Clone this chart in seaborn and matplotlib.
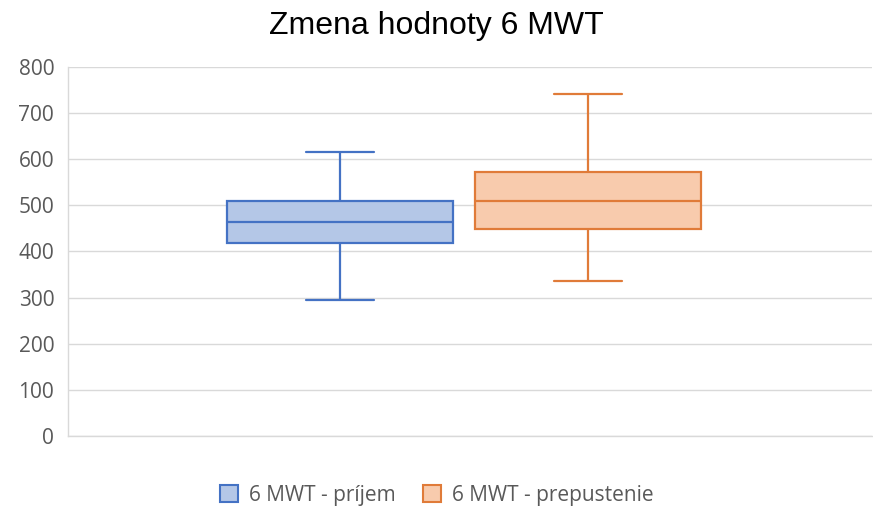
import matplotlib
matplotlib.use("Agg")
import matplotlib.pyplot as plt
import seaborn as sns
import pandas as pd
from matplotlib.patches import Patch

# five-number summaries (min, q1, median, q3, max)
series = ["6 MWT - príjem", "6 MWT - prepustenie"]
prijem = [295, 419, 464, 510, 616]
prepustenie = [336, 449, 510, 573, 742]
yticks = [0, 100, 200, 300, 400, 500, 600, 700, 800]

edge_colors = ["#4472C4", "#E07B39"]
fill_colors = ["#B4C7E7", "#F8CBAD"]

df = pd.DataFrame({
    "value": prijem + prepustenie,
    "series": [series[0]] * len(prijem) + [series[1]] * len(prepustenie),
    "cat": "6 MWT",
})

sns.set_style("white")
plt.rcParams["font.family"] = ["Open Sans", "DejaVu Sans"]

fig = plt.figure(figsize=(8.73, 5.19), dpi=100)
ax = fig.add_axes([0.078, 0.160, 0.921, 0.711])

sns.boxplot(data=df, x="cat", y="value", hue="series", hue_order=series,
            whis=(0, 100), width=0.617, gap=0.089, linewidth=1.6, saturation=1,
            palette=fill_colors, legend=False, ax=ax, zorder=3)

# recolor lines of each box to its darker edge colour
n_lines = len(ax.lines) // 2
for i, col in enumerate(edge_colors):
    ax.patches[i].set_edgecolor(col)
    for ln in ax.lines[i * n_lines:(i + 1) * n_lines]:
        ln.set_color(col)
        ln.set_linewidth(1.6)
# shorten caps to about a third of the box width
for ln in ax.lines:
    xd = ln.get_xdata()
    yd = ln.get_ydata()
    if len(xd) == 2 and yd[0] == yd[1] and xd[0] != xd[1]:
        mid = (xd[0] + xd[1]) / 2
        half = abs(xd[1] - xd[0]) / 2
        if half < 0.1:
            ln.set_xdata([mid - 0.042, mid + 0.042])

ax.set_xlim(-0.4925, 0.5075)
ax.set_ylim(0, 800)
ax.set_yticks(yticks)
ax.set_xticks([])
ax.set_xlabel("")
ax.set_ylabel("")
ax.yaxis.grid(True, color="#D9D9D9", linewidth=1.0, zorder=0)
ax.set_axisbelow(True)
for s in ["top", "right"]:
    ax.spines[s].set_visible(False)
for s in ["left", "bottom"]:
    ax.spines[s].set_color("#D9D9D9")
    ax.spines[s].set_linewidth(1.0)
ax.tick_params(axis="y", length=0, labelsize=15, labelcolor="#595959", pad=10)

fig.suptitle("Zmena hodnoty 6 MWT", x=0.5, y=0.978, fontsize=23,
             color="#000000", family=["Liberation Sans", "DejaVu Sans"])

handles = [Patch(facecolor=f, edgecolor=e, linewidth=1.5)
           for f, e in zip(fill_colors, edge_colors)]
fig.legend(handles, series, loc="center", bbox_to_anchor=(0.5, 0.046), ncol=2,
           frameon=False, fontsize=15, handlelength=0.9, handleheight=0.9,
           columnspacing=1.3, handletextpad=0.5, labelcolor="#595959")

fig.savefig("out.png", dpi=100)
